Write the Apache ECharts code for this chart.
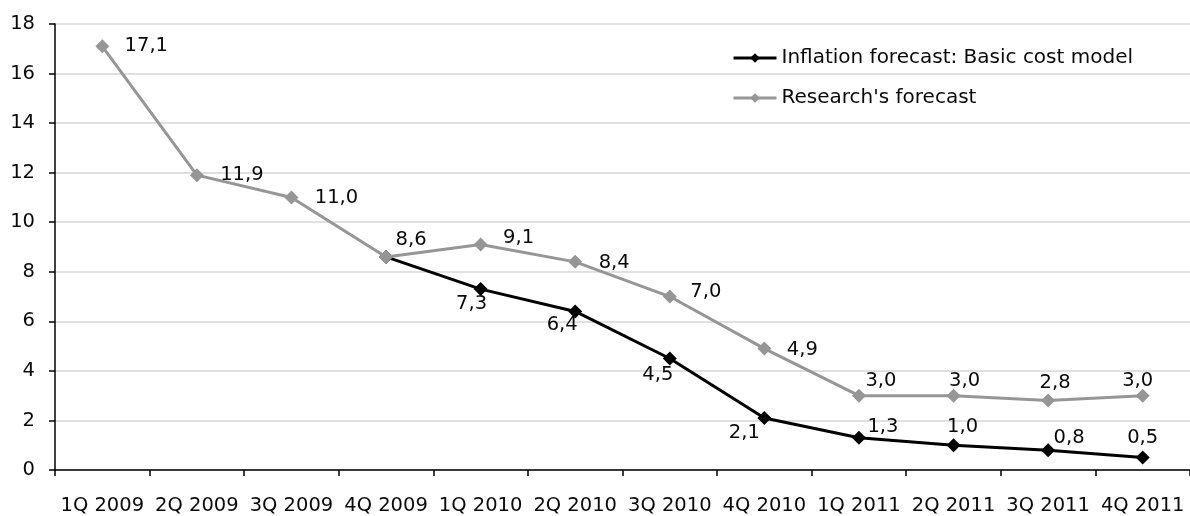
<!DOCTYPE html>
<html>
<head>
<meta charset="utf-8">
<script src="https://cdn.jsdelivr.net/npm/echarts@6/dist/echarts.min.js"></script>
<style>
  html, body { margin: 0; padding: 0; background: #fff; }
  #chart { width: 1190px; height: 516px; }
</style>
</head>
<body>
<div id="chart"></div>
<script>
// Quarterly inflation forecasts, %
const categories = ['1Q 2009', '2Q 2009', '3Q 2009', '4Q 2009', '1Q 2010', '2Q 2010',
                    '3Q 2010', '4Q 2010', '1Q 2011', '2Q 2011', '3Q 2011', '4Q 2011'];
const basicCostModel = [null, null, null, 8.6, 7.3, 6.4, 4.5, 2.1, 1.3, 1.0, 0.8, 0.5];
const researchForecast = [17.1, 11.9, 11.0, 8.6, 9.1, 8.4, 7.0, 4.9, 3.0, 3.0, 2.8, 3.0];
const yTicks = [0, 2, 4, 6, 8, 10, 12, 14, 16, 18];

// Where each value label sits relative to its marker (label centre, px)
const basicLabelShift = [null, null, null, null, [-9, 15], [-13, 14], [-12, 16], [-20, 15],
                         [24, -11], [9, -18], [21, -12], [0, -20]];
const researchLabelShift = [[44, 0], [45, 0], [45, 0], [25, -17], [38, -7], [39, 1], [36, -5],
                            [38, 1], [22, -15], [11, -15], [7, -18], [-5, -15]];

const FONT = 'DejaVu Sans, Verdana, sans-serif';
const TEXT = '#0a0a0a';
const fmt = v => v.toFixed(1).replace('.', ',');

function buildData(values, shifts) {
  return values.map((v, i) => {
    if (v === null) return null;
    const s = shifts[i];
    return {
      value: v,
      label: s ? { show: true, position: 'inside', offset: s } : { show: false }
    };
  });
}

const chart = echarts.init(document.getElementById('chart'), null, { renderer: 'canvas' });
chart.setOption({
  animation: false,
  backgroundColor: '#ffffff',
  textStyle: { fontFamily: FONT },
  grid: { left: 55, top: 24, width: 1139, height: 447, containLabel: false },
  legend: {
    orient: 'vertical',
    left: 732,
    top: 48,
    padding: 0,
    itemWidth: 43,
    itemHeight: 12,
    itemGap: 20,
    lineStyle: { width: 3 },
    textStyle: { fontFamily: FONT, fontSize: 20, color: TEXT, lineHeight: 20 },
    data: ['Inflation forecast: Basic cost model', "Research's forecast"]
  },
  xAxis: {
    type: 'category',
    data: categories,
    boundaryGap: true,
    axisLine: { lineStyle: { color: '#000', width: 1.5 } },
    axisTick: { show: true, length: 6, inside: false, lineStyle: { color: '#000', width: 1.5 } },
    axisLabel: { fontFamily: FONT, fontSize: 19.5, color: TEXT, margin: 26, interval: 0 },
    splitLine: { show: false }
  },
  yAxis: {
    type: 'value',
    min: yTicks[0],
    max: yTicks[yTicks.length - 1],
    interval: 2,
    axisLine: { show: true, lineStyle: { color: '#000', width: 1.5 } },
    axisTick: { show: true, length: 6, lineStyle: { color: '#000', width: 1.5 } },
    axisLabel: { fontFamily: FONT, fontSize: 19.5, color: TEXT, margin: 20 },
    splitLine: { show: true, lineStyle: { color: '#d6d6d6', width: 1.5 } }
  },
  series: [
    {
      name: 'Inflation forecast: Basic cost model',
      type: 'line',
      data: buildData(basicCostModel, basicLabelShift),
      symbol: 'diamond',
      symbolSize: 14,
      lineStyle: { color: '#000', width: 3 },
      itemStyle: { color: '#000' },
      label: { fontFamily: FONT, fontSize: 19.5, color: TEXT, formatter: p => fmt(p.value) },
      z: 2
    },
    {
      name: "Research's forecast",
      type: 'line',
      data: buildData(researchForecast, researchLabelShift),
      symbol: 'diamond',
      symbolSize: 14,
      lineStyle: { color: '#969696', width: 3 },
      itemStyle: { color: '#969696' },
      label: { fontFamily: FONT, fontSize: 19.5, color: TEXT, formatter: p => fmt(p.value) },
      z: 3
    }
  ]
});
</script>
</body>
</html>
